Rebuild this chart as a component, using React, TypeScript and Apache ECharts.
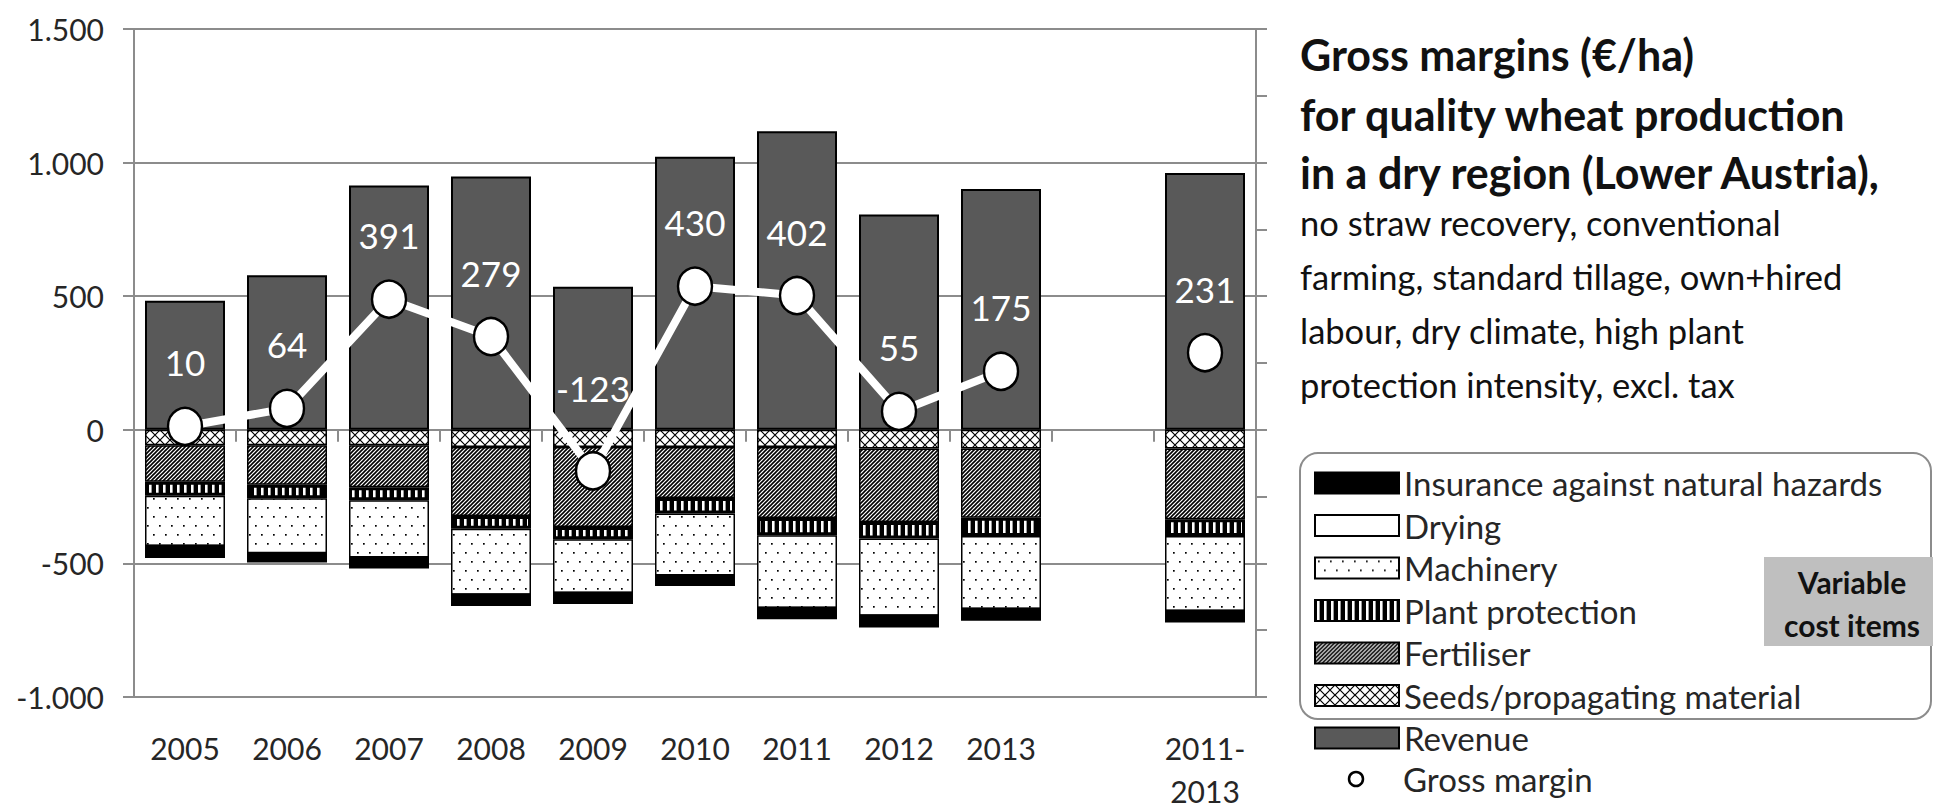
import React, { useEffect, useRef } from 'react';
import * as echarts from 'echarts';

// ---------- data ----------
const categories = ['2005', '2006', '2007', '2008', '2009', '2010', '2011', '2012', '2013', '', '2011-2013'];
const revenue = [483, 578, 914, 948, 535, 1022, 1117, 806, 901, null, 961];
const seeds = [-58, -58, -58, -64, -64, -64, -64, -70, -70, null, -70];
const fertiliser = [-136, -148, -157, -259, -300, -191, -266, -275, -259, null, -265];
const plantProtection = [-53, -50, -49, -47, -46, -58, -65, -62, -68, null, -62];
const machinery = [-188, -206, -214, -247, -201, -232, -272, -289, -274, null, -281];
const drying = [0, 0, 0, 0, 0, 0, 0, 0, 0, null, 0];
const insurance = [-45, -35, -41, -42, -41, -40, -42, -44, -44, null, -43];
const grossMargin = [10, 64, 391, 279, -123, 430, 402, 55, 175, null, 231];

const legendCosts = [
  'Insurance against natural hazards',
  'Drying',
  'Machinery',
  'Plant protection',
  'Fertiliser',
  'Seeds/propagating material',
  'Revenue',
];
const legendMargin = 'Gross margin';
const titleBold = [
  'Gross margins (€/ha)',
  'for quality wheat production',
  'in a dry region (Lower Austria),',
];
const titleNormal = [
  'no straw recovery, conventional',
  'farming, standard tillage, own+hired',
  'labour, dry climate, high plant',
  'protection intensity, excl. tax',
];
const boxLabel = ['Variable', 'cost items'];

const FONT = 'Lato';
const GRAY = '#8c8c8c';
const TXT = '#262626';

function fmt(v: number): string {
  const s = Math.abs(v).toString().replace(/\B(?=(\d{3})+(?!\d))/g, '.');
  return (v < 0 ? '-' : '') + s;
}

function makePattern(w: number, h: number, draw: (ctx: CanvasRenderingContext2D) => void) {
  const c = document.createElement('canvas');
  c.width = w;
  c.height = h;
  const ctx = c.getContext('2d') as CanvasRenderingContext2D;
  draw(ctx);
  return { image: c, repeat: 'repeat', imageWidth: w, imageHeight: h };
}

export default function App() {
  const ref = useRef<HTMLDivElement>(null);
  useEffect(() => {
    document.body.style.margin = '0';
    if (!ref.current) return;
    const chart = echarts.init(ref.current, undefined, { renderer: 'svg' });

    const cross = makePattern(10, 10, (ctx) => {
      ctx.fillStyle = '#fff';
      ctx.fillRect(0, 0, 10, 10);
      ctx.strokeStyle = '#000';
      ctx.lineWidth = 1.2;
      ctx.beginPath();
      ctx.moveTo(0, 0); ctx.lineTo(10, 10);
      ctx.moveTo(10, 0); ctx.lineTo(0, 10);
      ctx.stroke();
    });
    const diag = makePattern(4, 4, (ctx) => {
      ctx.fillStyle = '#fff';
      ctx.fillRect(0, 0, 4, 4);
      ctx.strokeStyle = '#000';
      ctx.lineWidth = 1.6;
      ctx.beginPath();
      ctx.moveTo(0, 4); ctx.lineTo(4, 0);
      ctx.moveTo(-1, 1); ctx.lineTo(1, -1);
      ctx.moveTo(3, 5); ctx.lineTo(5, 3);
      ctx.stroke();
    });
    const vstripe = makePattern(7, 4, (ctx) => {
      ctx.fillStyle = '#000';
      ctx.fillRect(0, 0, 7, 4);
      ctx.fillStyle = '#fff';
      ctx.fillRect(2, 0, 2.6, 4);
    });
    const dots = makePattern(12, 18, (ctx) => {
      ctx.fillStyle = '#fff';
      ctx.fillRect(0, 0, 12, 18);
      ctx.fillStyle = '#000';
      ctx.fillRect(3, 3, 1.7, 1.7);
      ctx.fillRect(9, 12, 1.7, 1.7);
    });

    const barBase = {
      type: 'bar',
      stack: 'total',
      barWidth: 80,
      xAxisIndex: 0,
      yAxisIndex: 0,
    };

    const gmData = grossMargin.map((v, i) =>
      v === null ? null : i === 4 ? { value: v, label: { offset: [0, -83] } } : v
    );

    const titleY = [54, 114, 172, 222, 276, 330, 384];
    const graphics: any[] = [];
    titleBold.forEach((t, i) => {
      graphics.push({
        type: 'text', x: 1300, y: titleY[i],
        style: { text: t, fontFamily: FONT, fontWeight: 'bold', fontSize: 43, fill: '#111', align: 'left', verticalAlign: 'middle' },
      });
    });
    titleNormal.forEach((t, i) => {
      graphics.push({
        type: 'text', x: 1300, y: titleY[i + 3],
        style: { text: t, fontFamily: FONT, fontSize: 34.5, fill: '#111', align: 'left', verticalAlign: 'middle' },
      });
    });
    graphics.push({
      type: 'rect', shape: { x: 1300, y: 453, width: 631, height: 266, r: 18 },
      style: { fill: 'none', stroke: GRAY, lineWidth: 2 }, z: 1,
    });
    graphics.push({
      type: 'rect', shape: { x: 1764, y: 557, width: 169, height: 89 },
      style: { fill: '#bfbfbf' }, z: 2,
    });
    boxLabel.forEach((t, i) => {
      graphics.push({
        type: 'text', x: 1852, y: 582 + i * 43, z: 3,
        style: { text: t, fontFamily: FONT, fontWeight: 'bold', fontSize: 30, fill: '#111', align: 'center', verticalAlign: 'middle' },
      });
    });
    // Gross margin legend entry
    graphics.push({
      type: 'circle', shape: { cx: 1356, cy: 779, r: 7 },
      style: { fill: '#fff', stroke: '#000', lineWidth: 2.5 }, z: 3,
    });
    graphics.push({
      type: 'text', x: 1403, y: 779, z: 3,
      style: { text: legendMargin, fontFamily: FONT, fontSize: 33, fill: TXT, align: 'left', verticalAlign: 'middle' },
    });

    const option: any = {
      animation: false,
      backgroundColor: '#fff',
      textStyle: { fontFamily: FONT },
      grid: { left: 134, right: 677, top: 29, bottom: 110 },
      xAxis: [
        {
          type: 'category', data: categories, position: 'bottom',
          axisLine: { onZero: true, lineStyle: { color: GRAY, width: 2 } },
          axisTick: { show: true, length: 12, interval: 0, lineStyle: { color: GRAY, width: 2 } },
          axisLabel: { show: false },
          splitLine: { show: false },
        },
        {
          type: 'category', data: categories, position: 'bottom',
          axisLine: { show: false, onZero: false },
          axisTick: { show: false },
          axisLabel: {
            interval: 0, fontSize: 30, color: TXT, margin: 29, lineHeight: 43, fontFamily: FONT,
            formatter: (v: string) => v.replace('-', '-\n'),
          },
        },
      ],
      yAxis: [
        {
          type: 'value', min: -1000, max: 1500, interval: 500,
          axisLine: { show: true, lineStyle: { color: GRAY, width: 2 } },
          axisTick: { show: true, length: 11, lineStyle: { color: GRAY, width: 2 } },
          splitLine: { lineStyle: { color: GRAY, width: 2 } },
          axisLabel: { fontSize: 30, color: TXT, margin: 30, fontFamily: FONT, formatter: fmt },
        },
        {
          type: 'value', position: 'right', min: -800, max: 1200, interval: 200,
          axisLine: { show: true, onZero: false, lineStyle: { color: GRAY, width: 2 } },
          axisTick: { show: true, length: 11, lineStyle: { color: GRAY, width: 2 } },
          splitLine: { show: false },
          axisLabel: { show: false },
        },
      ],
      legend: {
        orient: 'vertical', left: 1314, top: 466, padding: 0, itemWidth: 84, itemHeight: 21, itemGap: 8.5,
        icon: 'rect', selectedMode: false,
        textStyle: { fontSize: 33, lineHeight: 34, color: TXT, fontFamily: FONT },
        data: legendCosts,
      },
      graphic: graphics,
      series: [
        { ...barBase, name: 'Revenue', data: revenue, itemStyle: { color: '#595959', borderColor: '#000', borderWidth: 2 } },
        { ...barBase, name: 'Seeds/propagating material', data: seeds, itemStyle: { color: cross, borderColor: '#000', borderWidth: 1.5 } },
        { ...barBase, name: 'Fertiliser', data: fertiliser, itemStyle: { color: diag, borderColor: '#000', borderWidth: 1.5 } },
        { ...barBase, name: 'Plant protection', data: plantProtection, itemStyle: { color: vstripe, borderColor: '#000', borderWidth: 3 } },
        { ...barBase, name: 'Machinery', data: machinery, itemStyle: { color: dots, borderColor: '#000', borderWidth: 1.5 } },
        { ...barBase, name: 'Drying', data: drying, itemStyle: { color: '#fff', borderColor: '#000', borderWidth: 2.5 } },
        { ...barBase, name: 'Insurance against natural hazards', data: insurance, itemStyle: { color: '#000', borderColor: '#000', borderWidth: 1.5 } },
        {
          type: 'line', name: legendMargin, xAxisIndex: 0, yAxisIndex: 1, data: gmData,
          z: 5, connectNulls: false,
          symbol: 'circle', symbolSize: [34, 37],
          lineStyle: { color: '#fff', width: 8 },
          itemStyle: { color: '#fff', borderColor: '#000', borderWidth: 2.5 },
          label: { show: true, position: 'inside', offset: [0, -64], color: '#fff', fontSize: 35, fontFamily: FONT },
        },
      ],
    };
    chart.setOption(option);
    return () => chart.dispose();
  }, []);
  return <div ref={ref} style={{ width: 1933, height: 812 }} />;
}
